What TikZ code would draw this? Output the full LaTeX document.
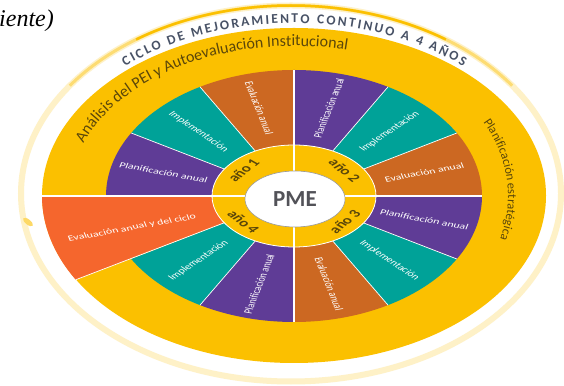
\documentclass[tikz,border=0pt]{standalone}
\usepackage{fontspec}
\setmainfont{Carlito}
\newfontfamily\notefont{Liberation Serif}
\usetikzlibrary{calc,shapes.geometric,decorations.text}
\definecolor{yellowc}{RGB}{251,192,0}
\definecolor{purplec}{RGB}{95,60,150}
\definecolor{tealc}{RGB}{0,162,152}
\definecolor{brownc}{RGB}{204,104,34}
\definecolor{redc}{RGB}{245,102,45}
\definecolor{olivec}{RGB}{90,70,10}
\definecolor{ciclotc}{RGB}{72,82,102}
\definecolor{pmec}{RGB}{82,82,88}
\newcommand\ciclofont{\bfseries\fontsize{13.5}{14}\selectfont}
\newcommand\bandfont{\fontsize{16}{17}\selectfont}
\newcommand\sidefont{\fontsize{12.5}{13}\selectfont}

\begin{document}
\begin{tikzpicture}[x=1pt,y=1pt,
  lab/.style={text=white,font=\fontsize{12}{13}\selectfont,inner sep=0pt,yscale=.67},
  yearlab/.style={text=olivec,font=\bfseries\fontsize{17}{18}\selectfont,inner sep=0pt,yscale=.67},
  pmebox/.style={ellipse,draw=black!40,line width=.6pt,fill=white,minimum width=100pt,minimum height=56pt,inner sep=0pt,text=pmec,font=\bfseries\fontsize{23}{24}\selectfont},
  sepline/.style={white,line width=.7pt},
  quadline/.style={white,line width=1.6pt}]
\useasboundingbox (0,0) rectangle (564,385);
\fill[white] (0,0) rectangle (564,385);
\coordinate (C) at (294,189);
\coordinate (O) at (291,191.5);
% ring of the cycle
\draw[yellowc!22,line width=6pt,fill=white] (O) ellipse[x radius=270pt,y radius=188pt];
\draw[yellowc!55,line width=3pt] ($(O)+(35:270pt and 188pt)$) arc[start angle=35,end angle=145,x radius=270pt,y radius=188pt];
\draw[yellowc,line width=2.5pt] ($(O)+(55:270pt and 188pt)$) arc[start angle=55,end angle=125,x radius=270pt,y radius=188pt];
\fill[yellowc!60,rotate around={-39:(28,163)}] (28,163) ellipse[x radius=6pt,y radius=2.6pt];
% yellow disk
\fill[yellowc] (294,189.5) ellipse[x radius=252pt,y radius=167.5pt];
% wedges
\foreach \ang/\col in {0/brownc,30/tealc,60/purplec,90/brownc,120/tealc,150/purplec,210/tealc,240/purplec,270/brownc,300/tealc,330/purplec}
  \fill[\col] (C) -- ($(C)+(\ang:188pt and 126pt)$) arc[start angle=\ang,delta angle=30,x radius=188pt,y radius=126pt] -- cycle;
\fill[redc] (C) -- ($(C)+(180:252pt and 167.5pt)$) arc[start angle=180,delta angle=30,x radius=252pt,y radius=167.5pt] -- cycle;
\foreach \ang in {30,60,120,150,240,300,330}
  \draw[sepline] (C) -- ($(C)+(\ang:188pt and 126pt)$);
\draw[sepline] (C) -- ($(C)+(210:252pt and 167.5pt)$);
% years ring
\filldraw[fill=yellowc,draw=white,line width=.8pt] (C) ellipse[x radius=82pt,y radius=51pt];
\draw[quadline] ($(C)+(0:188pt and 126pt)$) -- ($(C)+(180:252pt and 167.5pt)$);
\draw[quadline] ($(C)+(90:188pt and 126pt)$) -- ($(C)+(270:188pt and 126pt)$);
\node[pmebox] (pme) at (295,186) {PME};
% labels of the wedges
\foreach \ang/\rot/\txt in {165/-15/Planificación anual,135/-45/Implementación,105/-75/Evaluación anual,75/75/Planificación anual,45/45/Implementación,15/15/Evaluación anual,345/-15/Planificación anual,315/-45/Implementación,285/-75/Evaluación anual,255/75/Planificación anual,225/45/Implementación}
  \node[lab,rotate=\rot] (lab\ang) at ($(C)+(\ang:135pt and 91pt)$) {\txt};
\node[lab,rotate=15] (labcycle) at (132,157) {Evaluación anual y del ciclo};
\node[yearlab,rotate=50] (year1) at ($(C)+(140:66pt and 40pt)$) {año 1};
\node[yearlab,rotate=-50] (year2) at ($(C)+(40:66pt and 40pt)$) {año 2};
\node[yearlab,rotate=50] (year3) at ($(C)+(320:66pt and 40pt)$) {año 3};
\node[yearlab,rotate=-50] (year4) at ($(C)+(220:66pt and 40pt)$) {año 4};
% texts on the band
\path[decorate,decoration={text along path,text={|\ciclofont|CICLO DE MEJORAMIENTO CONTINUO A 4 AÑOS},text align=fit to path,text color=ciclotc}] ($(C)+(131.5:255pt and 173pt)$) arc[start angle=131.5,end angle=48.5,x radius=255pt,y radius=173pt];
\path[decorate,decoration={text along path,text={|\bandfont|Análisis del PEI y Autoevaluación Institucional},text align=center,text color=olivec}] ($(C)+(164:225pt and 150pt)$) arc[start angle=164,end angle=73,x radius=225pt,y radius=150pt];
\path[decorate,decoration={text along path,text={|\sidefont|Planificación estratégica},text align=center,text color=olivec}] ($(C)+(30:214pt and 158pt)$) arc[start angle=30,end angle=-18,x radius=214pt,y radius=158pt];
\node[anchor=base west,inner sep=0pt,font=\notefont\itshape\fontsize{24}{26}\selectfont] (note) at (-1,358) {iente)};
\end{tikzpicture}
\end{document}
